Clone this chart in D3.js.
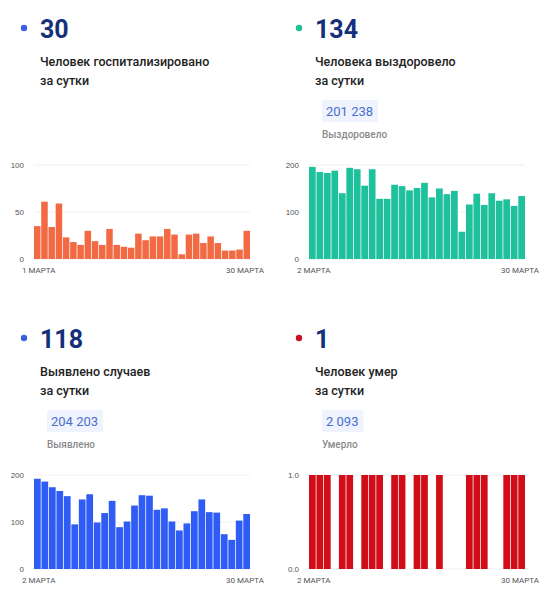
<!DOCTYPE html>
<html>
<head>
<meta charset="utf-8">
<script src="https://cdn.jsdelivr.net/npm/d3@7"></script>
<style>
  body { margin: 0; background: #fff; font-family: Roboto, "Noto Sans", sans-serif; }
  .tick text { fill: #555; font-size: 8px; }
</style>
</head>
<body>
<svg id="chart" width="550" height="600"></svg>
<script>
// Госпитализировано, 1–30 марта
const hospital = [35, 61, 34, 59, 23, 18, 15, 30, 19, 15, 32, 15, 13, 12, 27, 20, 24, 24, 32, 26, 5, 26, 27, 17, 24, 17, 9, 9, 10, 30];
// Выздоровело, 2–30 марта
const recovered = [196, 185, 183, 188, 140, 194, 191, 156, 191, 128, 128, 158, 155, 146, 151, 162, 131, 150, 138, 145, 58, 116, 139, 115, 140, 124, 127, 113, 134];
// Выявлено, 2–30 марта
const cases = [192, 186, 174, 166, 155, 95, 148, 159, 99, 119, 145, 89, 101, 135, 157, 156, 126, 129, 101, 82, 97, 123, 148, 121, 120, 74, 62, 103, 117];
// Умерло, 2–30 марта
const deaths = [1, 1, 1, 0, 1, 1, 0, 1, 1, 1, 0, 1, 1, 0, 1, 1, 0, 1, 0, 0, 0, 1, 1, 1, 0, 0, 1, 1, 1];

const panels = [
  { x: 0, y: 0, value: "30", dot: "#3b5fe0", lines: ["Человек госпитализировано", "за сутки"], total: null, totalLabel: null,
    data: hospital, color: "#f26a43", max: 100, ticks: [0, 50, 100], start: "1 МАРТА", end: "30 МАРТА" },
  { x: 275, y: 0, value: "134", dot: "#1dbf9a", lines: ["Человека выздоровело", "за сутки"], total: "201 238", totalLabel: "Выздоровело",
    data: recovered, color: "#1fc19d", max: 200, ticks: [0, 100, 200], start: "2 МАРТА", end: "30 МАРТА" },
  { x: 0, y: 310, value: "118", dot: "#3b5fe0", lines: ["Выявлено случаев", "за сутки"], total: "204 203", totalLabel: "Выявлено",
    data: cases, color: "#2f5cf5", max: 200, ticks: [0, 100, 200], start: "2 МАРТА", end: "30 МАРТА" },
  { x: 275, y: 310, value: "1", dot: "#c8101e", lines: ["Человек умер", "за сутки"], total: "2 093", totalLabel: "Умерло",
    data: deaths, color: "#d00d18", max: 1, ticks: [0, 1], start: "2 МАРТА", end: "30 МАРТА" }
];

const svg = d3.select("#chart");

panels.forEach((p, pi) => {
  const g = svg.append("g").attr("transform", `translate(${p.x},${p.y})`);

  g.append("circle").attr("cx", 24).attr("cy", 28).attr("r", 3.2).attr("fill", p.dot);
  g.append("text").attr("x", 40).attr("y", 38)
    .attr("font-size", 25).attr("font-weight", 700).attr("fill", "#14307a").text(p.value);
  p.lines.forEach((t, i) => {
    g.append("text").attr("x", 40).attr("y", 66 + i * 19)
      .attr("font-size", 12.5).attr("font-weight", 500).attr("fill", "#222").text(t);
  });

  if (p.total) {
    const tx = g.append("text").attr("x", 51).attr("y", 116)
      .attr("font-size", 13).attr("fill", "#4a6fd0").text(p.total);
    const w = tx.node().getComputedTextLength();
    g.insert("rect", "text").attr("x", 47).attr("y", 100).attr("width", w + 9).attr("height", 22)
      .attr("rx", 2).attr("fill", "#eef3fd");
    g.append("text").attr("x", 47).attr("y", 138)
      .attr("font-size", 10).attr("font-weight", 500).attr("fill", "#8a8a8a").text(p.totalLabel);
  }

  // plot area
  const top = 165, bottom = 259;
  const x0 = pi % 2 === 0 ? 34 : 34, x1 = 250;
  const xScale = d3.scaleBand().domain(d3.range(p.data.length)).range([x0, x1]).paddingInner(0.1).paddingOuter(0);
  const yScale = d3.scaleLinear().domain([0, p.max]).range([bottom, top]);

  g.append("g").selectAll("line").data(p.ticks).join("line")
    .attr("x1", x0).attr("x2", x1)
    .attr("y1", d => yScale(d)).attr("y2", d => yScale(d))
    .attr("stroke", "#f0f0f0");

  const yAxis = g.append("g").attr("transform", `translate(${x0 - 6},0)`)
    .call(d3.axisLeft(yScale).tickValues(p.ticks).tickSize(0).tickPadding(4));
  yAxis.select(".domain").remove();

  g.append("g").selectAll("rect").data(p.data).join("rect")
    .attr("x", (d, i) => xScale(i))
    .attr("width", xScale.bandwidth())
    .attr("y", d => yScale(d))
    .attr("height", d => bottom - yScale(d))
    .attr("fill", p.color);

  g.append("text").attr("x", x0 - 12).attr("y", 273).attr("font-size", 8).attr("fill", "#555").text(p.start);
  g.append("text").attr("x", x1 + 14).attr("y", 273).attr("font-size", 8).attr("fill", "#555")
    .attr("text-anchor", "end").text(p.end);
});
</script>
</body>
</html>
